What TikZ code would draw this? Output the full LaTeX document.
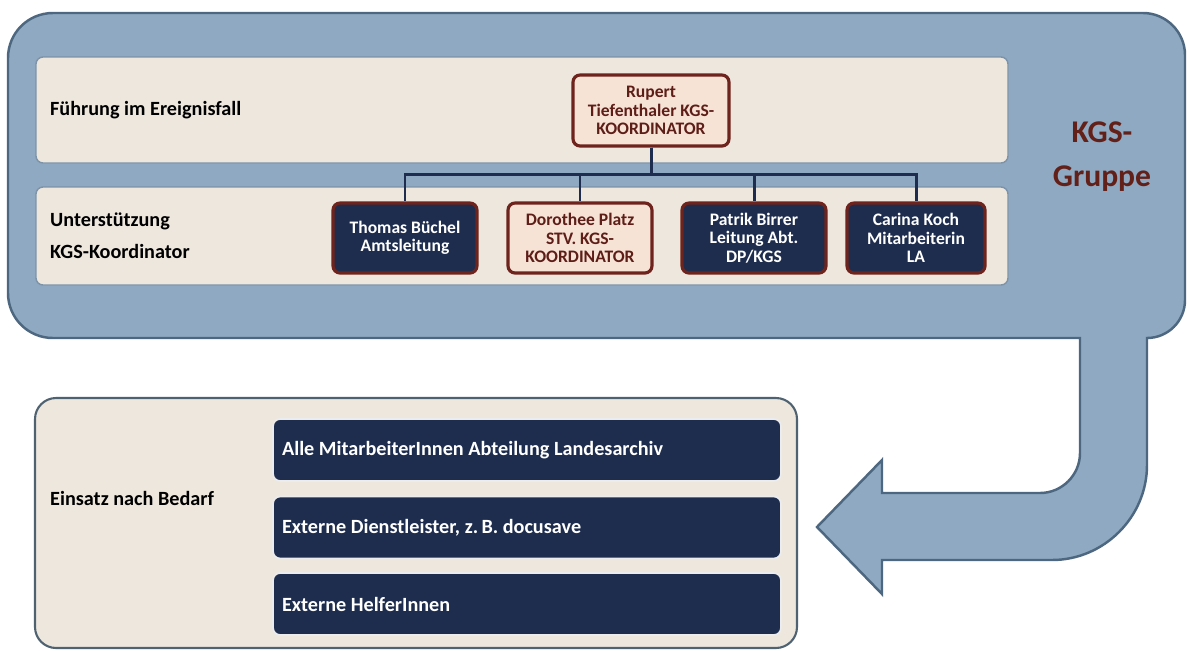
\documentclass[tikz,border=0pt]{standalone}
\usepackage{fontspec}
\setmainfont{Carlito}
\definecolor{gruppeblau}{HTML}{8EA9C1}
\definecolor{gruppenrand}{HTML}{4D6781}
\definecolor{beige}{HTML}{EEE7DE}
\definecolor{panelrand}{HTML}{7D93A8}
\definecolor{navy}{HTML}{1E2D4E}
\definecolor{weinrot}{HTML}{6E231C}
\definecolor{pfirsich}{HTML}{F7E3D6}
\definecolor{schiefer}{HTML}{4F6272}
\begin{document}
\begin{tikzpicture}[x=0.02cm, y=-0.02cm]
    % Stile
    \tikzstyle{gruppe}=[fill=gruppeblau, draw=gruppenrand, line width=1.4pt]
    \tikzstyle{ebene}=[fill=beige, draw=panelrand, line width=0.8pt, rounded corners=4pt]
    \tikzstyle{person}=[rectangle, rounded corners=4pt, fill=navy, text=white, draw=weinrot, line width=1.8pt, minimum width=2.88cm, minimum height=1.4cm, align=center, font=\bfseries\fontsize{10}{10.4}\selectfont]
    \tikzstyle{leitung}=[person, fill=pfirsich, text=weinrot!85!black]
    \tikzstyle{einsatz}=[rectangle, rounded corners=4pt, fill=navy, text=white, draw=white!85!gray, line width=1pt, minimum width=10.16cm, minimum height=1.24cm, text width=9.8cm, inner xsep=0.18cm, align=flush left, font=\bfseries\fontsize{11.5}{13}\selectfont]
    \tikzstyle{titel}=[anchor=west, align=flush left, font=\bfseries\fontsize{11.5}{18}\selectfont]
    \tikzstyle{linie}=[navy, line width=1.7pt]
    \useasboundingbox (0,0) rectangle (1187,650);
    \fill[white] (0,0) rectangle (1187,650);
    % KGS-Gruppe mit Pfeil
    \draw[gruppe] (8,58) .. controls (8,33) and (28,13) .. (53,13) -- (1143,13)
        .. controls (1166,13) and (1185,32) .. (1185,55) -- (1185,300)
        .. controls (1185,321) and (1168,338) .. (1147,338) -- (1147,465)
        .. controls (1147,517) and (1104,560) .. (1052,560) -- (882,560)
        -- (882,594) -- (817,527) -- (882,460) -- (882,493) -- (1040,493)
        .. controls (1062,493) and (1080,475) .. (1080,453) -- (1080,338)
        -- (53,338) .. controls (28,338) and (8,318) .. (8,293) -- cycle;
    \node[text=weinrot!90!black, align=center, font=\bfseries\fontsize{18}{25}\selectfont] (gruppe) at (1102,157) {KGS-\\Gruppe};
    % Ebenen
    \draw[ebene] (36,57) rectangle (1008,163);
    \draw[ebene] (36,187) rectangle (1008,285);
    \node[titel] (fuehrung) at (44,110) {Führung im Ereignisfall};
    \node[titel] (unterstuetzung) at (44,236) {Unterstützung\\KGS-Koordinator};
    % Personen
    \node[leitung, minimum width=3.12cm, minimum height=1.42cm] (tiefenthaler) at (651,110.5) {Rupert\\Tiefenthaler KGS-\\KOORDINATOR};
    \node[person] (buechel) at (405,238) {Thomas Büchel\\Amtsleitung};
    \node[leitung] (platz) at (580,238) {Dorothee Platz\\STV. KGS-\\KOORDINATOR};
    \node[person] (birrer) at (754,238) {Patrik Birrer\\Leitung Abt.\\DP/KGS};
    \node[person, minimum width=2.76cm] (koch) at (916,238) {Carina Koch\\Mitarbeiterin\\LA};
    \draw[linie] (tiefenthaler.south) -- ++(0,27) -| (buechel.north);
    \draw[linie] (tiefenthaler.south) -- ++(0,27) -| (platz.north);
    \draw[linie] (tiefenthaler.south) -- ++(0,27) -| (birrer.north);
    \draw[linie] (tiefenthaler.south) -- ++(0,27) -| (koch.north);
    % Einsatz nach Bedarf
    \draw[fill=beige, draw=schiefer, line width=1.2pt, rounded corners=12pt] (35,398) rectangle (797,648);
    \node[titel] (bedarf) at (44,498) {Einsatz nach Bedarf};
    \node[einsatz] (alle) at (527,450) {Alle MitarbeiterInnen Abteilung Landesarchiv};
    \node[einsatz] (dienstleister) at (527,527.5) {Externe Dienstleister, z.\,B. docusave};
    \node[einsatz] (helfer) at (527,604) {Externe HelferInnen};
\end{tikzpicture}
\end{document}
